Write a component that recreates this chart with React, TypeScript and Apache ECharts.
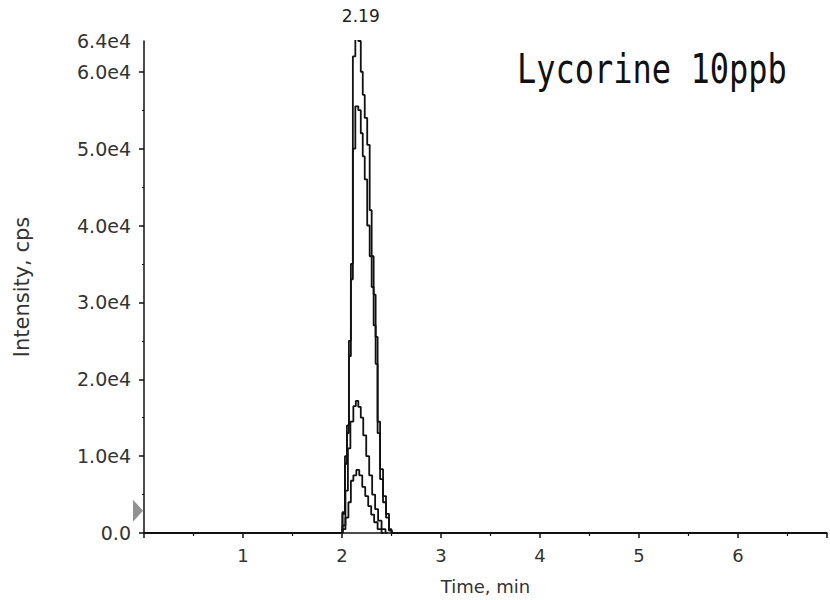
import React, { useEffect, useRef } from "react";
import * as echarts from "echarts";

const chartTitle = "Lycorine 10ppb";
const xAxisName = "Time, min";
const yAxisName = "Intensity, cps";
const xMin = 0;
const xMax = 6.9;
const yMax = 64000;
const yLabelValues = [0, 10000, 20000, 30000, 40000, 50000, 60000, 64000];
const yTickValues = [0, 10000, 20000, 30000, 40000, 50000, 60000];
const peakTime = 2.19;
const thresholdLevel = 2900;

// [time (min), intensity (cps)]
const traceA: [number, number][] = [
  [0, 0], [1.99, 0], [2.02, 2700], [2.04, 10000], [2.06, 14000], [2.08, 25000],
  [2.10, 35000], [2.12, 62000], [2.15, 64400], [2.18, 64000], [2.20, 60000],
  [2.22, 57000], [2.24, 54000], [2.27, 50500], [2.29, 42000], [2.31, 36000],
  [2.33, 31000], [2.35, 25500], [2.37, 14500], [2.40, 8300], [2.43, 4800],
  [2.46, 2500], [2.49, 500], [2.51, 0], [6.9, 0],
];
const traceB: [number, number][] = [
  [1.99, 0], [2.02, 2500], [2.04, 9000], [2.06, 13000], [2.08, 23000],
  [2.10, 33000], [2.12, 50000], [2.15, 55500], [2.18, 55000], [2.20, 52000],
  [2.22, 49000], [2.24, 46000], [2.27, 40000], [2.29, 36000], [2.31, 32000],
  [2.33, 27000], [2.35, 22000], [2.37, 13000], [2.40, 7000], [2.43, 4000],
  [2.46, 2000], [2.49, 300], [2.52, 0],
];
const traceC: [number, number][] = [
  [1.99, 0], [2.02, 1000], [2.05, 5500], [2.07, 11000], [2.10, 14500],
  [2.13, 16500], [2.15, 17200], [2.18, 16400], [2.20, 15000], [2.23, 12700],
  [2.26, 10000], [2.29, 7500], [2.32, 5000], [2.35, 3100], [2.38, 1600],
  [2.42, 500], [2.46, 0],
];
const traceD: [number, number][] = [
  [1.99, 0], [2.02, 500], [2.05, 2000], [2.08, 4000], [2.10, 6800],
  [2.13, 7500], [2.16, 8200], [2.19, 7500], [2.22, 6000], [2.25, 4800],
  [2.28, 3500], [2.31, 2400], [2.34, 1400], [2.38, 500], [2.42, 0],
];

const traces = [traceA, traceB, traceC, traceD];

const FONT = "'DejaVu Sans', Verdana, sans-serif";

function fmtY(v: number): string {
  if (v === 0) return "0.0";
  return (v / 10000).toFixed(1) + "e4";
}

export default function App() {
  const ref = useRef<HTMLDivElement>(null);
  useEffect(() => {
    if (!ref.current) return;
    const chart = echarts.init(ref.current, null, { renderer: "svg" });
    const lineSeries = traces.map((d, i) => ({
      type: "line",
      data: d,
      step: "middle",
      showSymbol: false,
      symbol: "none",
      lineStyle: { color: "#111", width: 1.8 },
      z: 3,
      markPoint:
        i === 0
          ? {
              symbol: "circle",
              symbolSize: 0,
              data: [{ coord: [peakTime, yMax] }],
              label: {
                show: true,
                position: "top",
                distance: 17,
                formatter: () => peakTime.toFixed(2),
                color: "#222",
                fontFamily: FONT,
                fontSize: 17,
              },
            }
          : undefined,
    }));
    chart.setOption({
      animation: false,
      backgroundColor: "#fff",
      grid: { left: 144, right: 0, top: 41, bottom: 66, containLabel: false },
      graphic: [
        {
          type: "text",
          x: 517,
          y: 49,
          scaleY: 1.25,
          style: {
            text: chartTitle,
            font: "32px 'DejaVu Sans Mono', monospace",
            fill: "#111",
          },
        },
      ],
      xAxis: {
        type: "value",
        min: xMin,
        max: xMax,
        interval: 1,
        name: xAxisName,
        nameLocation: "middle",
        nameGap: 44,
        nameTextStyle: { color: "#333", fontSize: 18, fontFamily: FONT },
        axisLine: { show: true, lineStyle: { color: "#111", width: 1.5 } },
        axisTick: { show: true, length: 5, lineStyle: { color: "#111", width: 1.5 } },
        minorTick: { show: true, splitNumber: 2, length: 3, lineStyle: { color: "#111", width: 1.2 } },
        splitLine: { show: false },
        axisLabel: {
          color: "#333",
          fontSize: 18,
          margin: 13,
          fontFamily: FONT,
          formatter: (v: number) => (v === 0 || v > 6.5 ? "" : String(v)),
        },
      },
      yAxis: {
        type: "value",
        min: 0,
        max: yMax,
        interval: 10000,
        name: yAxisName,
        nameLocation: "middle",
        nameGap: 112,
        nameTextStyle: { color: "#333", fontSize: 21, fontFamily: FONT },
        axisLine: { show: true, lineStyle: { color: "#111", width: 1.5 } },
        axisTick: {
          show: true,
          length: 5,
          customValues: yTickValues,
          lineStyle: { color: "#111", width: 1.5 },
        },
        minorTick: { show: true, splitNumber: 2, length: 2, lineStyle: { color: "#111", width: 1.2 } },
        splitLine: { show: false },
        axisLabel: {
          color: "#333",
          fontSize: 19,
          margin: 13,
          customValues: yLabelValues,
          fontFamily: FONT,
          formatter: (v: number) => fmtY(v),
        },
      },
      series: [
        ...lineSeries,
        {
          type: "scatter",
          data: [[xMin, thresholdLevel]],
          symbol: "path://M0,0 L10,11 L0,22 Z",
          symbolSize: [10, 22],
          symbolOffset: [-6, 0],
          clip: false,
          itemStyle: { color: "#777" },
          z: 5,
        },
      ],
    });
    return () => chart.dispose();
  }, []);
  return <div ref={ref} style={{ width: 830, height: 600, position: "absolute", left: 0, top: 0 }} />;
}
